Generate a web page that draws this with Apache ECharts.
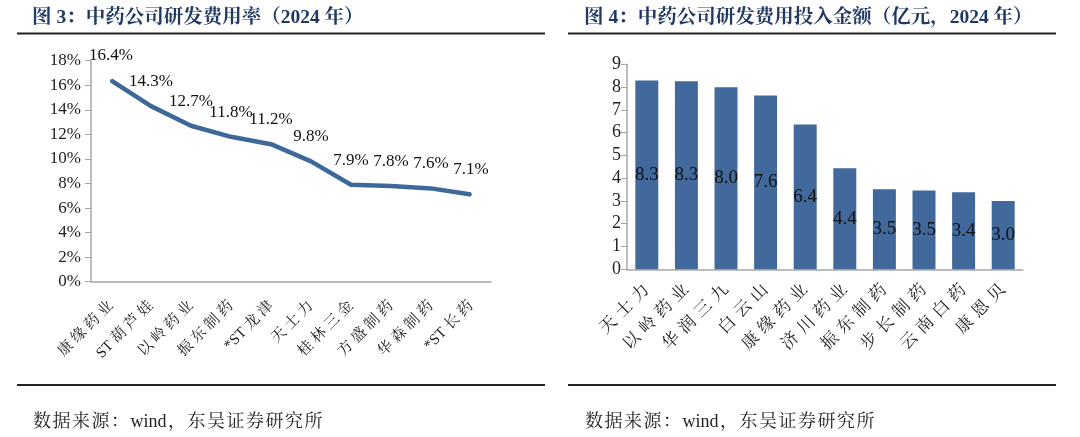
<!DOCTYPE html>
<html>
<head>
<meta charset="utf-8">
<script src="https://cdn.jsdelivr.net/npm/echarts@6/dist/echarts.min.js"></script>
<style>
html,body{margin:0;padding:0;background:#fff;}
#c{width:1080px;height:437px;}
</style>
</head>
<body>
<div id="c"></div>
<script>
const rateCompanies = ['康缘药业','ST葫芦娃','以岭药业','振东制药','*ST龙津','天士力','桂林三金','方盛制药','华森制药','*ST长药'];
const rateValues = [16.4, 14.3, 12.7, 11.8, 11.2, 9.8, 7.9, 7.8, 7.6, 7.1];
const spendCompanies = ['天士力','以岭药业','华润三九','白云山','康缘药业','济川药业','振东制药','步长制药','云南白药','康恩贝'];
const spendValues = [8.29, 8.26, 7.99, 7.63, 6.36, 4.44, 3.51, 3.46, 3.38, 3.0];
const title3 = '图 3：中药公司研发费用率（2024 年）';
const title4 = '图 4：中药公司研发费用投入金额（亿元，2024 年）';
const sourceText = '数据来源：wind，东吴证券研究所';

const serif = '"Liberation Serif","Noto Serif CJK SC","Noto Sans CJK SC",serif';
// add a small gap between characters when either side is a CJK glyph (typesetting only)
const cjkSpace = (s, gap) => {
  const ch = Array.from(s);
  let out = ch[0] || '';
  for (let i = 1; i < ch.length; i++) {
    const a = ch[i - 1], b = ch[i];
    if (a.charCodeAt(0) > 255 || b.charCodeAt(0) > 255) out += gap;
    out += b;
  }
  return out;
};

const chart = echarts.init(document.getElementById('c'));
chart.setOption({
  animation: false,
  title: [
    {text: title3, left: 27, top: 3, textStyle: {fontSize: 19.5, fontWeight: 'bold', color: '#1f3864', fontFamily: serif}},
    {text: title4, left: 579, top: 3, textStyle: {fontSize: 19.5, fontWeight: 'bold', color: '#1f3864', fontFamily: serif}},
    {text: cjkSpace(sourceText, '\u200A'), left: 28, top: 408, textStyle: {fontSize: 18, fontWeight: 'normal', color: '#222', fontFamily: serif}},
    {text: cjkSpace(sourceText, '\u200A'), left: 580, top: 408, textStyle: {fontSize: 18, fontWeight: 'normal', color: '#222', fontFamily: serif}}
  ],
  graphic: [
    {type: 'line', shape: {x1: 17, y1: 33.5, x2: 545, y2: 33.5}, style: {stroke: '#222', lineWidth: 2}},
    {type: 'line', shape: {x1: 568, y1: 33.5, x2: 1056, y2: 33.5}, style: {stroke: '#222', lineWidth: 2}},
    {type: 'line', shape: {x1: 17, y1: 385, x2: 545, y2: 385}, style: {stroke: '#222', lineWidth: 2}},
    {type: 'line', shape: {x1: 568, y1: 385, x2: 1056, y2: 385}, style: {stroke: '#222', lineWidth: 2}}
  ],
  grid: [
    {left: 91, top: 60.7, width: 400, height: 221},
    {left: 627, top: 64.3, width: 396, height: 205}
  ],
  xAxis: [
    {type: 'category', gridIndex: 0, data: rateCompanies, boundaryGap: true,
     axisLine: {lineStyle: {color: '#a6a6a6', width: 1.5}}, axisTick: {show: false},
     axisLabel: {rotate: 45, interval: 0, margin: 22, fontSize: 15, color: '#222', fontFamily: serif,
                 formatter: v => cjkSpace(v, '\u2005')}},
    {type: 'category', gridIndex: 1, data: spendCompanies, boundaryGap: true,
     axisLine: {lineStyle: {color: '#a6a6a6', width: 1.5}}, axisTick: {show: false},
     axisLabel: {rotate: 45, interval: 0, margin: 18, fontSize: 17, color: '#222', fontFamily: serif,
                 formatter: v => cjkSpace(v, '\u2004')}}
  ],
  yAxis: [
    {type: 'value', gridIndex: 0, min: 0, max: 18, interval: 2,
     axisLine: {show: true, lineStyle: {color: '#a6a6a6', width: 1.5}},
     axisTick: {show: true, length: 6, lineStyle: {color: '#a6a6a6'}}, splitLine: {show: false},
     axisLabel: {formatter: '{value}%', fontSize: 17, color: '#222', fontFamily: serif, margin: 10}},
    {type: 'value', gridIndex: 1, min: 0, max: 9, interval: 1,
     axisLine: {show: true, lineStyle: {color: '#a6a6a6', width: 1.5}},
     axisTick: {show: true, length: 6, lineStyle: {color: '#a6a6a6'}}, splitLine: {show: false},
     axisLabel: {fontSize: 18, color: '#222', fontFamily: serif, margin: 6}}
  ],
  series: [
    {type: 'line', xAxisIndex: 0, yAxisIndex: 0, data: rateValues, symbol: 'circle', symbolSize: 2, showSymbol: true,
     itemStyle: {color: '#3e679a'},
     lineStyle: {color: '#3e679a', width: 4.5},
     label: {show: true, position: 'top', distance: 15, fontSize: 17, color: '#111', fontFamily: serif,
             formatter: p => p.value.toFixed(1) + '%'}},
    {type: 'bar', xAxisIndex: 1, yAxisIndex: 1, data: spendValues, barWidth: '58%',
     itemStyle: {color: '#41699b'},
     label: {show: true, position: 'inside', fontSize: 19, color: '#111', fontFamily: serif,
             formatter: p => p.value.toFixed(1)}}
  ]
});
</script>
</body>
</html>
